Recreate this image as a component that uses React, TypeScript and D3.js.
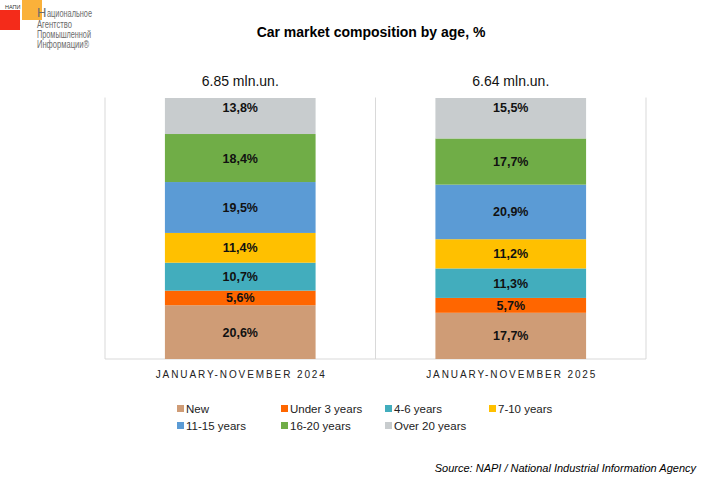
import React from 'react';
import * as d3 from 'd3';

const periods = ['JANUARY-NOVEMBER 2024', 'JANUARY-NOVEMBER 2025'];
const totals = ['6.85 mln.un.', '6.64 mln.un.'];
const seriesNames = ['New', 'Under 3 years', '4-6 years', '7-10 years', '11-15 years', '16-20 years', 'Over 20 years'];
const seriesColors = ['#CF9C76', '#FF6600', '#42ADBD', '#FFC000', '#5B9BD5', '#70AD47', '#C8CCCE'];
// share of each age group, per period
const share2024 = [20.6, 5.6, 10.7, 11.4, 19.5, 18.4, 13.8];
const share2025 = [17.7, 5.7, 11.3, 11.2, 20.9, 17.7, 15.5];

const W = 701;
const H = 480;
const margin = { top: 98, right: 55, bottom: 121, left: 105 };

const fmt = (v: number) => v.toFixed(1).replace('.', ',') + '%';

const App: React.FC = () => {
  const rows = periods.map((p, i) => {
    const vals = i === 0 ? share2024 : share2025;
    const r: Record<string, any> = { period: p };
    seriesNames.forEach((s, j) => (r[s] = vals[j]));
    return r;
  });

  const stack = d3.stack<any>().keys(seriesNames)(rows);

  const x = d3.scaleBand()
    .domain(periods)
    .range([margin.left, W - margin.right])
    .padding(0);

  const y = d3.scaleLinear()
    .domain([0, 100])
    .range([H - margin.bottom, margin.top]);

  const barW = x.bandwidth() * 0.557;
  const grid = '#D9D9D9';
  const baseY = y(0);

  const legendCols = [181, 285, 389, 493];

  return (
    <svg width={W} height={H} style={{ position: 'absolute', left: 0, top: 0, background: '#fff' }}>
      {/* logo */}
      <rect x={0} y={10} width={20} height={20} fill="#F42B1A" />
      <rect x={22} y={0} width={20} height={20} fill="#F9A825" opacity={0.9} />
      <text x={5} y={9} fontSize={5.5} fontFamily="Liberation Sans, Arial" fill="#333">НАПИ</text>
      <g fontFamily="'Liberation Sans Narrow', 'Liberation Sans', Arial" fill="#6b6b6b" fontSize={10}>
        <text x={37} y={17} fontSize={13}>Н</text>
        <text x={47} y={17} textLength={45} lengthAdjust="spacingAndGlyphs">ациональное</text>
        <text x={37} y={28} textLength={35} lengthAdjust="spacingAndGlyphs">Агентство</text>
        <text x={37} y={38} textLength={54} lengthAdjust="spacingAndGlyphs">Промышленной</text>
        <text x={37} y={48} textLength={52} lengthAdjust="spacingAndGlyphs">Информации®</text>
      </g>

      {/* title */}
      <text x={371} y={37} textAnchor="middle" fontFamily="Liberation Sans, Arial" fontWeight="bold" fontSize={14} fill="#000">
        Car market composition by age, %
      </text>

      {/* grid */}
      <g stroke={grid} strokeWidth={1}>
        {[...periods.map(p => x(p)!), W - margin.right].map((gx, i) => (
          <line key={i} x1={gx} x2={gx} y1={margin.top - 0.5} y2={baseY} />
        ))}
        <line x1={margin.left} x2={W - margin.right} y1={baseY} y2={baseY} />
      </g>

      {/* bars */}
      {stack.map((layer, li) => (
        <g key={layer.key} fill={seriesColors[li]}>
          {layer.map((d, i) => (
            <rect
              key={i}
              x={x(periods[i])! + (x.bandwidth() - barW) / 2}
              y={y(d[1])}
              width={barW}
              height={y(d[0]) - y(d[1])}
            />
          ))}
        </g>
      ))}

      {/* value labels */}
      <g fontFamily="Liberation Sans, Arial" fontWeight="bold" fontSize={12.5} fill="#111" textAnchor="middle">
        {stack.map((layer, li) =>
          layer.map((d, i) => {
            const cy = li === stack.length - 1 ? y(d[1]) + 9 : (y(d[0]) + y(d[1])) / 2;
            return (
              <text key={layer.key + i} x={x(periods[i])! + x.bandwidth() / 2} y={cy + 4.5}>
                {fmt(d[1] - d[0])}
              </text>
            );
          })
        )}
      </g>

      {/* totals */}
      <g fontFamily="Liberation Sans, Arial" fontSize={14} fill="#111" textAnchor="middle">
        {periods.map((p, i) => (
          <text key={p} x={x(p)! + x.bandwidth() / 2} y={86}>{totals[i]}</text>
        ))}
      </g>

      {/* category axis labels */}
      <g fontFamily="Liberation Sans, Arial" fontSize={10} fill="#222" textAnchor="middle" letterSpacing={1.9}>
        {periods.map(p => (
          <text key={p} x={x(p)! + x.bandwidth() / 2 + 1} y={378}>{p}</text>
        ))}
      </g>

      {/* legend */}
      <g fontFamily="Liberation Sans, Arial" fontSize={11.5} fill="#222">
        {seriesNames.map((s, i) => {
          const lx = legendCols[i % 4];
          const ly = i < 4 ? 409 : 426;
          return (
            <g key={s}>
              <rect x={lx - 4} y={ly - 4} width={7} height={7} fill={seriesColors[i]} />
              <text x={lx + 5} y={ly + 4}>{s}</text>
            </g>
          );
        })}
      </g>

      {/* source */}
      <text x={696} y={472} textAnchor="end" fontFamily="Liberation Sans, Arial" fontStyle="italic" fontSize={11} fill="#000">
        Source: NAPI / National Industrial Information Agency
      </text>
    </svg>
  );
};

export default App;
